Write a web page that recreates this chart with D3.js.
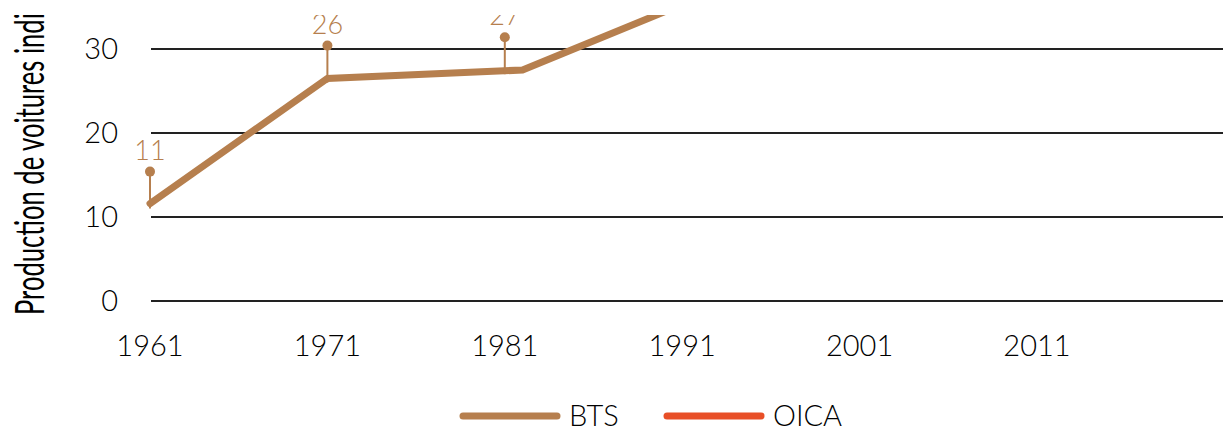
<!DOCTYPE html>
<html>
<head>
<meta charset="utf-8">
<script src="https://cdn.jsdelivr.net/npm/d3@7"></script>
<style>
    body { margin: 0; background: #fff; }
    svg { display: block; }
    text { font-family: Lato, "Open Sans", sans-serif; font-weight: 300; }
</style>
</head>
<body>
<svg id="chart"></svg>
<script>
// data (millions of cars)
var btsYears = [1961, 1971, 1982, 1991, 2001, 2011];
var btsValues = [11.6, 26.5, 27.5, 35.3, 39.8, 59.9];
var oicaYears = [1998, 2001, 2005, 2011, 2015];
var oicaValues = [38.5, 39.8, 46.9, 59.9, 68.5];
var noteYears = [1961, 1971, 1981];
var noteValues = [11, 26, 27];
var xTicks = [1961, 1971, 1981, 1991, 2001, 2011];
var yTicks = [0, 10, 20, 30];
var seriesNames = ['BTS', 'OICA'];

var C = {
    bts: '#b67f4e',
    oica: '#e84f27',
    grid: '#222',
    text: '#000'
};

var W = 1223, H = 430;
var svg = d3.select('#chart').attr('width', W).attr('height', H);

var x = d3.scaleLinear().domain([1961, 2011]).range([150, 1037]);
var y = d3.scaleLinear().domain([0, 35]).range([301, 7]);

// whole chart is cut off at the top
svg.append('clipPath').attr('id', 'top-clip')
    .append('rect').attr('x', 0).attr('y', 15).attr('width', W).attr('height', H - 15);

var g = svg.append('g').attr('clip-path', 'url(#top-clip)');

// grid + y labels
g.selectAll('.grid').data(yTicks).enter().append('line')
    .attr('x1', x(1961) + 1).attr('x2', W)
    .attr('y1', function (d) { return y(d); })
    .attr('y2', function (d) { return y(d); })
    .attr('stroke', C.grid).attr('stroke-width', 2);

g.selectAll('.ytick').data(yTicks).enter().append('text')
    .attr('x', 118)
    .attr('y', function (d) { return y(d); })
    .attr('dy', '0.35em')
    .attr('text-anchor', 'end')
    .attr('font-size', 29)
    .attr('fill', C.text)
    .text(function (d) { return d; });

// x labels
g.selectAll('.xtick').data(xTicks).enter().append('text')
    .attr('x', function (d) { return x(d); })
    .attr('y', 356)
    .attr('text-anchor', 'middle')
    .attr('font-size', 29)
    .attr('fill', C.text)
    .text(function (d) { return d; });

// axis title, condensed
var title = g.append('text')
    .attr('transform', 'translate(44,315) rotate(-90)')
    .attr('font-size', 41)
    .style('font-weight', 400)
    .attr('fill', C.text)
    .text('Production de voitures individuelles (millions)');
var sub = title.node().getSubStringLength(0, 27);
title.attr('transform', 'translate(44,315) rotate(-90) scale(' + (302 / sub) + ',1)');

// lines
var line = d3.line()
    .x(function (d) { return x(d[0]); })
    .y(function (d) { return y(d[1]); });

g.append('path')
    .datum(d3.zip(oicaYears, oicaValues))
    .attr('d', line)
    .attr('fill', 'none').attr('stroke', C.oica)
    .attr('stroke-width', 7).attr('stroke-linecap', 'round');

g.append('path')
    .datum(d3.zip(btsYears, btsValues))
    .attr('d', line)
    .attr('fill', 'none').attr('stroke', C.bts)
    .attr('stroke-width', 7).attr('stroke-linecap', 'round');

// value notes
var notes = g.selectAll('.note').data(d3.zip(noteYears, noteValues)).enter()
    .append('g')
    .attr('transform', function (d) { return 'translate(' + x(d[0]) + ',' + y(d[1]) + ')'; });

notes.append('line')
    .attr('y1', 0).attr('y2', -37)
    .attr('stroke', C.bts).attr('stroke-width', 2);
notes.append('circle')
    .attr('cy', -37).attr('r', 5)
    .attr('fill', C.bts);
notes.append('text')
    .attr('y', -49)
    .attr('text-anchor', 'middle')
    .attr('font-size', 27)
    .attr('fill', C.bts)
    .text(function (d) { return d[1]; });

// legend
var legend = svg.append('g').attr('transform', 'translate(463,416)');
var item = legend.selectAll('g').data(seriesNames).enter().append('g')
    .attr('transform', function (d, i) { return 'translate(' + i * 204 + ',0)'; });
item.append('line')
    .attr('x1', 0).attr('x2', 94)
    .attr('stroke', function (d, i) { return i ? C.oica : C.bts; })
    .attr('stroke-width', 7).attr('stroke-linecap', 'round');
item.append('text')
    .attr('x', 106).attr('y', 0)
    .attr('dy', '0.33em')
    .attr('font-size', 29)
    .attr('fill', C.text)
    .text(function (d) { return d; });
</script>
</body>
</html>
